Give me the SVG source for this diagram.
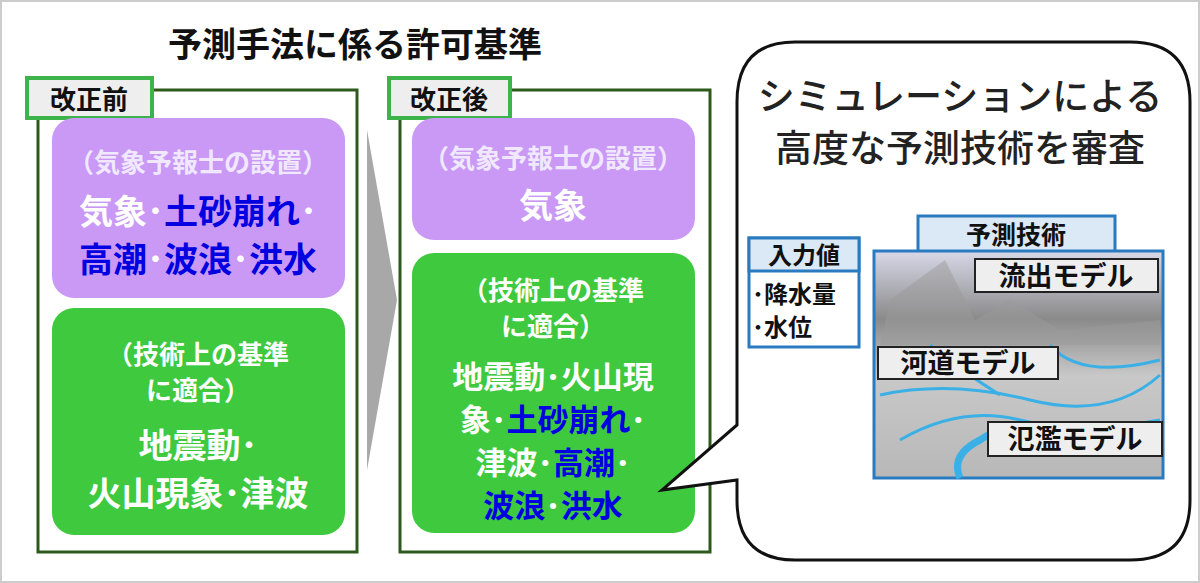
<svg xmlns="http://www.w3.org/2000/svg" width="1200" height="583" viewBox="0 0 1200 583">
<defs>
<style>
text{font-family:"Noto Sans CJK JP","Noto Sans",sans-serif;font-weight:bold}
.panel{fill:#fff;stroke:#2d5a1c;stroke-width:3}
.tag{fill:#eeeeee;stroke:#3cb44b;stroke-width:4}
.pur{fill:#c999f5}
.grn{fill:#3ec93e}
.w{fill:#fff}
.b{fill:#0000e0}
.lbl{fill:#eeeeee;stroke:#222;stroke-width:2}
</style>
<linearGradient id="mt" x1="0" y1="0" x2="0" y2="1">
<stop offset="0" stop-color="#d8d8e8"/><stop offset="0.3" stop-color="#8a8a8a"/><stop offset="0.55" stop-color="#c8c8c8"/><stop offset="1" stop-color="#b8b8b8"/>
</linearGradient>
</defs>
<rect x="1" y="1" width="1198" height="581" fill="#fff" stroke="#ccc" stroke-width="2"/>
<text x="355" y="57" font-size="34" text-anchor="middle" fill="#111">予測手法に係る許可基準</text>
<g id="before">
<rect class="panel" x="38" y="90" width="319" height="462"/>
<rect class="tag" x="27" y="78" width="125" height="40"/>
<text x="89" y="109" font-size="26" text-anchor="middle" fill="#111">改正前</text>
<rect class="pur" x="52" y="118" width="293" height="180" rx="22"/>
<text x="198" y="172" font-size="26" text-anchor="middle" fill="#f0e8ff">（気象予報士の設置）</text>
<text x="198" y="224" font-size="34" text-anchor="middle"><tspan class="w">気象･</tspan><tspan class="b">土砂崩れ</tspan><tspan class="w">･</tspan></text>
<text x="198" y="272" font-size="34" text-anchor="middle"><tspan class="b">高潮</tspan><tspan class="w">･</tspan><tspan class="b">波浪</tspan><tspan class="w">･</tspan><tspan class="b">洪水</tspan></text>
<rect class="grn" x="52" y="308" width="293" height="227" rx="22"/>
<text x="198" y="364" font-size="26" text-anchor="middle" class="w">（技術上の基準</text>
<text x="198" y="400" font-size="26" text-anchor="middle" class="w">に適合）</text>
<text x="198" y="458" font-size="34" text-anchor="middle" class="w">地震動･</text>
<text x="198" y="506" font-size="34" text-anchor="middle" class="w">火山現象･津波</text>
</g>
<g id="connectors">
<polygon points="367,130 397,300 367,470" fill="#a8a8a8"/>
<polyline points="797,347 797,410 858,410" fill="none" stroke="#1aa3e8" stroke-width="15"/>
<polygon points="855,394 872,410 855,426" fill="#1aa3e8"/>
</g>
<g id="after">
<rect class="panel" x="400" y="90" width="310" height="462"/>
<rect class="tag" x="389" y="78" width="121" height="40"/>
<text x="449" y="109" font-size="26" text-anchor="middle" fill="#111">改正後</text>
<rect class="pur" x="412" y="118" width="283" height="122" rx="22"/>
<text x="553" y="168" font-size="26" text-anchor="middle" fill="#f0e8ff">（気象予報士の設置）</text>
<text x="553" y="218" font-size="34" text-anchor="middle" class="w">気象</text>
<rect class="grn" x="412" y="253" width="283" height="280" rx="22"/>
<text x="553" y="300" font-size="26" text-anchor="middle" class="w">（技術上の基準</text>
<text x="553" y="336" font-size="26" text-anchor="middle" class="w">に適合）</text>
<text x="553" y="388" font-size="31" text-anchor="middle" class="w">地震動･火山現</text>
<text x="553" y="431" font-size="31" text-anchor="middle"><tspan class="w">象･</tspan><tspan class="b">土砂崩れ</tspan><tspan class="w">･</tspan></text>
<text x="553" y="474" font-size="31" text-anchor="middle"><tspan class="w">津波･</tspan><tspan class="b">高潮</tspan><tspan class="w">･</tspan></text>
<text x="553" y="517" font-size="31" text-anchor="middle"><tspan class="b">波浪</tspan><tspan class="w">･</tspan><tspan class="b">洪水</tspan></text>
</g>
<g id="bubble">
<path d="M795,42 H1130 Q1190,42 1190,102 V500 Q1190,560 1130,560 H795 Q737,560 737,500 V480 L662,490 L737,425 V102 Q737,42 795,42 Z" fill="#fff" stroke="#111" stroke-width="3"/>
<text x="960" y="110" font-size="37" text-anchor="middle" fill="#222" style="font-weight:500">シミュレーションによる</text>
<text x="960" y="162" font-size="37" text-anchor="middle" fill="#222" style="font-weight:500">高度な予測技術を審査</text>
</g>
<g id="input">
<rect x="749" y="238" width="110" height="109" fill="#fff" stroke="#2a7ac0" stroke-width="3"/>
<rect x="749" y="238" width="110" height="33" fill="#dbe8f5" stroke="#2a7ac0" stroke-width="3"/>
<text x="804" y="264" font-size="24" text-anchor="middle" fill="#111">入力値</text>
<text x="752" y="303" font-size="24" fill="#111">･降水量</text>
<text x="752" y="336" font-size="24" fill="#111">･水位</text>
</g>
<g id="tech">
<rect x="918" y="216" width="197" height="36" fill="#dbe8f5" stroke="#2a7ac0" stroke-width="3"/>
<text x="1016" y="244" font-size="25" text-anchor="middle" fill="#111">予測技術</text>
<rect x="874" y="251" width="289" height="227" fill="url(#mt)" stroke="#2a7ac0" stroke-width="3"/>
<path d="M890,300 L945,260 L975,320 L1010,300 L1060,330 L1160,320 L1160,345 L880,345 Z" fill="#999" opacity="0.5"/>
<g fill="none" stroke="#3ab0e6" stroke-width="3">
<path d="M880,395 Q950,380 1030,400 T1160,375"/>
<path d="M900,440 Q960,405 1020,420 T1160,420"/>
<path d="M960,478 Q950,455 980,440 Q1000,425 1030,430" stroke-width="7"/>
<path d="M1050,345 Q1080,380 1160,360"/>
<path d="M930,345 Q960,370 1000,395"/>
</g>
<rect class="lbl" x="975" y="259" width="183" height="33"/>
<text x="1066" y="286" font-size="27" text-anchor="middle" fill="#111">流出モデル</text>
<rect class="lbl" x="878" y="347" width="180" height="32"/>
<text x="968" y="373" font-size="27" text-anchor="middle" fill="#111">河道モデル</text>
<rect class="lbl" x="988" y="422" width="174" height="34"/>
<text x="1075" y="449" font-size="27" text-anchor="middle" fill="#111">氾濫モデル</text>
</g>
</svg>
